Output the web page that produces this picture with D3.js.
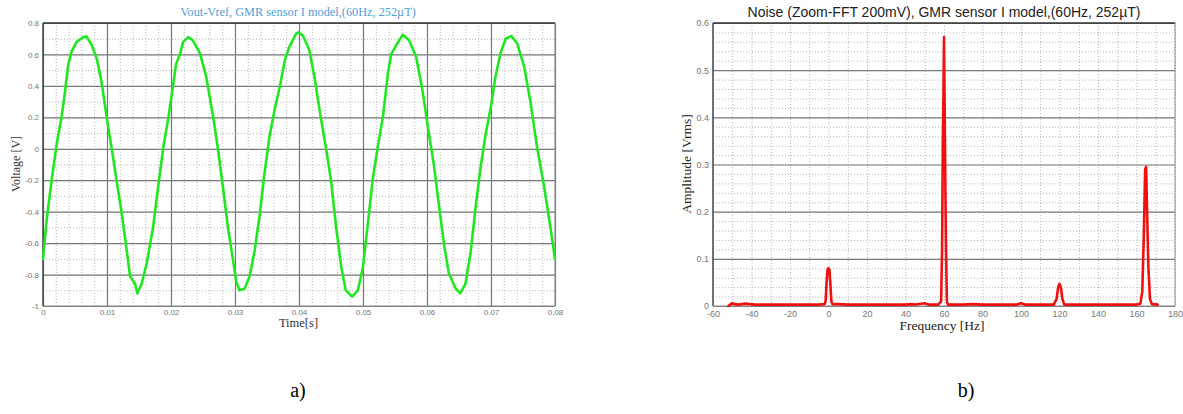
<!DOCTYPE html>
<html>
<head>
<meta charset="utf-8">
<script src="https://cdn.jsdelivr.net/npm/d3@7"></script>
<style>
  html, body { margin: 0; padding: 0; background: #fff; }
  svg { display: block; }
</style>
</head>
<body>
<svg id="chart" width="1183" height="414"></svg>
<script>
// ---------- Data: panel a (time domain) ----------
const timeS = [0, 0.00058, 0.00135, 0.00214, 0.0029, 0.0034, 0.00396, 0.00448, 0.00526, 0.0063, 0.0068, 0.0076, 0.0084, 0.00917, 0.00995,
  0.0107, 0.0115, 0.0123, 0.0130, 0.0136, 0.0144, 0.01474, 0.0154, 0.0162, 0.0172, 0.0180, 0.0188, 0.0196,
  0.0203, 0.0208, 0.0214, 0.0219, 0.0227, 0.0234, 0.0245, 0.0255, 0.0266, 0.0273, 0.0281, 0.0289, 0.0297,
  0.0302, 0.0307, 0.0315, 0.0323, 0.0331, 0.0339, 0.0346, 0.0354, 0.0362, 0.0370, 0.0378, 0.0385, 0.0396,
  0.0399, 0.0406, 0.0416, 0.0424, 0.0434, 0.0442, 0.0450, 0.0458, 0.0466, 0.0473, 0.0483, 0.0492, 0.0500,
  0.0507, 0.0515, 0.0523, 0.0531, 0.0539, 0.0544, 0.0552, 0.0562, 0.0572, 0.0583, 0.0593, 0.0601, 0.0611,
  0.0619, 0.0627, 0.0634, 0.0645, 0.0652, 0.0660, 0.0668, 0.0676, 0.0684, 0.0692, 0.0700, 0.0707, 0.0715,
  0.0723, 0.0732, 0.0741, 0.0752, 0.0762, 0.0772, 0.0783, 0.0791, 0.0800];
const voltageV = [-0.70, -0.45, -0.20, 0.03, 0.20, 0.35, 0.54, 0.62, 0.68, 0.71, 0.715, 0.66, 0.575, 0.42, 0.20,
  0.01, -0.20, -0.41, -0.62, -0.81, -0.86, -0.92, -0.86, -0.73, -0.50, -0.24, 0.01, 0.20,
  0.395, 0.54, 0.60, 0.68, 0.71, 0.69, 0.61, 0.46, 0.20, 0.01, -0.24, -0.50, -0.71,
  -0.845, -0.90, -0.89, -0.81, -0.64, -0.41, -0.16, 0.08, 0.25, 0.395, 0.565, 0.65, 0.735,
  0.74, 0.72, 0.63, 0.46, 0.20, 0.01, -0.20, -0.50, -0.75, -0.90, -0.94, -0.90, -0.75,
  -0.50, -0.20, 0.01, 0.20, 0.48, 0.60, 0.66, 0.725, 0.69, 0.585, 0.37, 0.15, -0.11,
  -0.37, -0.62, -0.79, -0.89, -0.92, -0.86, -0.665, -0.37, -0.11, 0.10, 0.27, 0.46, 0.61,
  0.70, 0.717, 0.67, 0.52, 0.29, 0.01, -0.24, -0.45, -0.70];
const timeTicks = [0, 0.01, 0.02, 0.03, 0.04, 0.05, 0.06, 0.07, 0.08];
const timeTickLabels = ["0", "0.01", "0.02", "0.03", "0.04", "0.05", "0.06", "0.07", "0.08"];
const voltTicks = [0.8, 0.6, 0.4, 0.2, 0, -0.2, -0.4, -0.6, -0.8, -1];
const voltTickLabels = ["0.8", "0.6", "0.4", "0.2", "0", "-0.2", "-0.4", "-0.6", "-0.8", "-1"];

// ---------- Data: panel b (spectrum) ----------
const freqHz = [-52, -51, -50, -49, -47, -45, -43, -41, -38, -35, -30, -25, -20, -15, -10, -5, -2, -1.5, -1, -0.5, 0, 0.5, 1, 1.5, 2,
  5, 10, 20, 30, 40, 43, 45, 50, 52, 57, 58.5, 59, 59.4, 59.7, 60, 60.3, 60.6, 61, 61.5, 62,
  70, 75, 80, 90, 98, 100, 102, 110, 117, 118.5, 119.3, 120, 120.7, 121.5, 122.5,
  140, 160, 162, 163, 163.8, 164.5, 165, 165.5, 166.2, 167, 168, 171];
const ampVrms = [0.0, 0.003, 0.006, 0.004, 0.003, 0.004, 0.005, 0.004, 0.003, 0.003, 0.003, 0.003, 0.003, 0.003, 0.003, 0.003, 0.004, 0.01, 0.05, 0.078, 0.08, 0.076, 0.045, 0.01, 0.004,
  0.004, 0.003, 0.003, 0.003, 0.003, 0.004, 0.003, 0.006, 0.003, 0.003, 0.01, 0.12, 0.35, 0.44, 0.57, 0.44, 0.30, 0.14, 0.01, 0.003,
  0.003, 0.004, 0.003, 0.003, 0.003, 0.006, 0.003, 0.003, 0.003, 0.015, 0.04, 0.047, 0.04, 0.015, 0.003,
  0.003, 0.003, 0.005, 0.03, 0.15, 0.29, 0.295, 0.2, 0.08, 0.015, 0.004, 0.003];
const freqTicks = [-60, -40, -20, 0, 20, 40, 60, 80, 100, 120, 140, 160, 180];
const freqTickLabels = ["-60", "-40", "-20", "0", "20", "40", "60", "80", "100", "120", "140", "160", "180"];
const ampTicks = [0, 0.1, 0.2, 0.3, 0.4, 0.5, 0.6];
const ampTickLabels = ["0", "0.1", "0.2", "0.3", "0.4", "0.5", "0.6"];

// ---------- Drawing ----------
const svg = d3.select("#chart");

function panel(opts) {
  const g = svg.append("g").attr("transform", `translate(${opts.left},${opts.top})`);
  const W = opts.width, H = opts.height;
  const x = d3.scaleLinear().domain(opts.xDomain).range([0, W]);
  const y = d3.scaleLinear().domain(opts.yDomain).range([H, 0]);

  // minor grid (dotted)
  g.append("g")
    .call(d3.axisBottom(x).tickValues(opts.xMinor).tickSize(H).tickFormat(""))
    .call(s => s.select(".domain").remove())
    .selectAll("line").attr("stroke", "#b8b8b8").attr("stroke-dasharray", "1,2").attr("stroke-width", 1);
  g.append("g")
    .call(d3.axisLeft(y).tickValues(opts.yMinor).tickSize(-W).tickFormat(""))
    .call(s => s.select(".domain").remove())
    .selectAll("line").attr("stroke", "#b8b8b8").attr("stroke-dasharray", "1,2").attr("stroke-width", 1);

  // major grid
  if (opts.xMajorSolid) {
    g.append("g")
      .call(d3.axisBottom(x).tickValues(opts.xTicks).tickSize(H).tickFormat(""))
      .call(s => s.select(".domain").remove())
      .selectAll("line").attr("stroke", "#777").attr("stroke-width", 1.2);
  }
  g.append("g")
    .call(d3.axisLeft(y).tickValues(opts.yTicks).tickSize(-W).tickFormat(""))
    .call(s => s.select(".domain").remove())
    .selectAll("line").attr("stroke", "#7a7a7a").attr("stroke-width", 1.2);

  // border
  g.append("line").attr("x1", 0).attr("x2", W).attr("y1", 0).attr("y2", 0).attr("stroke", "#333").attr("stroke-width", 1.5);
  g.append("line").attr("x1", 0).attr("x2", 0).attr("y1", 0).attr("y2", H).attr("stroke", "#444").attr("stroke-width", 1.5);
  g.append("line").attr("x1", W).attr("x2", W).attr("y1", 0).attr("y2", H).attr("stroke", "#888").attr("stroke-width", 1);
  g.append("line").attr("x1", 0).attr("x2", W).attr("y1", H).attr("y2", H).attr("stroke", "#888").attr("stroke-width", 1);

  // tick labels
  const xa = g.append("g").attr("transform", `translate(0,${H})`)
    .call(d3.axisBottom(x).tickValues(opts.xTicks).tickSize(0).tickPadding(opts.xPad)
      .tickFormat((d, i) => opts.xLabels[i]));
  xa.select(".domain").remove();
  xa.selectAll("text").attr("fill", "#777").style("font-family", "Liberation Sans, Arial, sans-serif").style("font-size", opts.tickFont + "px");
  const ya = g.append("g")
    .call(d3.axisLeft(y).tickValues(opts.yTicks).tickSize(0).tickPadding(opts.yPad)
      .tickFormat((d, i) => opts.yLabels[i]));
  ya.select(".domain").remove();
  ya.selectAll("text").attr("fill", "#777").style("font-family", "Liberation Sans, Arial, sans-serif").style("font-size", opts.tickFont + "px");

  // data line
  const pts = opts.xs.map((v, i) => [v, opts.ys[i]]);
  g.append("path").datum(pts)
    .attr("fill", "none").attr("stroke", opts.color).attr("stroke-width", opts.lineWidth)
    .attr("stroke-linejoin", "round").attr("stroke-linecap", "round")
    .attr("d", d3.line().x(d => x(d[0])).y(d => y(d[1])));
  return g;
}

const range = (a, b, s) => d3.range(Math.round((b - a) / s) + 1).map(i => +(a + i * s).toFixed(6));

panel({
  left: 43, top: 23, width: 512, height: 283,
  xDomain: [0, 0.08], yDomain: [-1, 0.8],
  xTicks: timeTicks, xLabels: timeTickLabels, yTicks: voltTicks, yLabels: voltTickLabels,
  xMinor: range(0, 0.08, 0.002), yMinor: range(-1, 0.8, 0.1),
  xMajorSolid: true, xPad: 3, yPad: 4, tickFont: 8,
  xs: timeS, ys: voltageV, color: "#22e622", lineWidth: 2.6
});

panel({
  left: 713, top: 23, width: 462, height: 283,
  xDomain: [-60, 180], yDomain: [0, 0.6],
  xTicks: freqTicks, xLabels: freqTickLabels, yTicks: ampTicks, yLabels: ampTickLabels,
  xMinor: range(-60, 180, 10), yMinor: range(0, 0.6, 0.02),
  xMajorSolid: false, xPad: 5, yPad: 4, tickFont: 9,
  xs: freqHz, ys: ampVrms, color: "#f01010", lineWidth: 2.6
});

// titles & axis labels
const serif = "Liberation Serif, Times New Roman, serif";
svg.append("text").attr("x", 298).attr("y", 16).attr("text-anchor", "middle")
  .style("font-family", serif).style("font-size", "12.3px").attr("fill", "#4f9fd6")
  .text("Vout-Vref, GMR sensor I model,(60Hz, 252µT)");
svg.append("text").attr("x", 944).attr("y", 16.5).attr("text-anchor", "middle")
  .style("font-family", "Liberation Sans, Arial, sans-serif").style("font-size", "14px").attr("fill", "#222")
  .text("Noise (Zoom-FFT 200mV), GMR sensor I model,(60Hz, 252µT)");

svg.append("text").attr("transform", "translate(20,164) rotate(-90)").attr("text-anchor", "middle")
  .style("font-family", serif).style("font-size", "12px").attr("fill", "#333").text("Voltage [V]");
svg.append("text").attr("x", 298.5).attr("y", 327).attr("text-anchor", "middle")
  .style("font-family", serif).style("font-size", "12.5px").attr("fill", "#333").text("Time[s]");

svg.append("text").attr("transform", "translate(691,164) rotate(-90)").attr("text-anchor", "middle")
  .style("font-family", serif).style("font-size", "13.5px").attr("fill", "#222").text("Amplitude [Vrms]");
svg.append("text").attr("x", 942).attr("y", 330).attr("text-anchor", "middle")
  .style("font-family", serif).style("font-size", "13.5px").attr("fill", "#222").text("Frequency [Hz]");

// panel captions
svg.append("text").attr("x", 298).attr("y", 397).attr("text-anchor", "middle")
  .style("font-family", serif).style("font-size", "20px").attr("fill", "#000").text("a)");
svg.append("text").attr("x", 966).attr("y", 397).attr("text-anchor", "middle")
  .style("font-family", serif).style("font-size", "20px").attr("fill", "#000").text("b)");
</script>
</body>
</html>
